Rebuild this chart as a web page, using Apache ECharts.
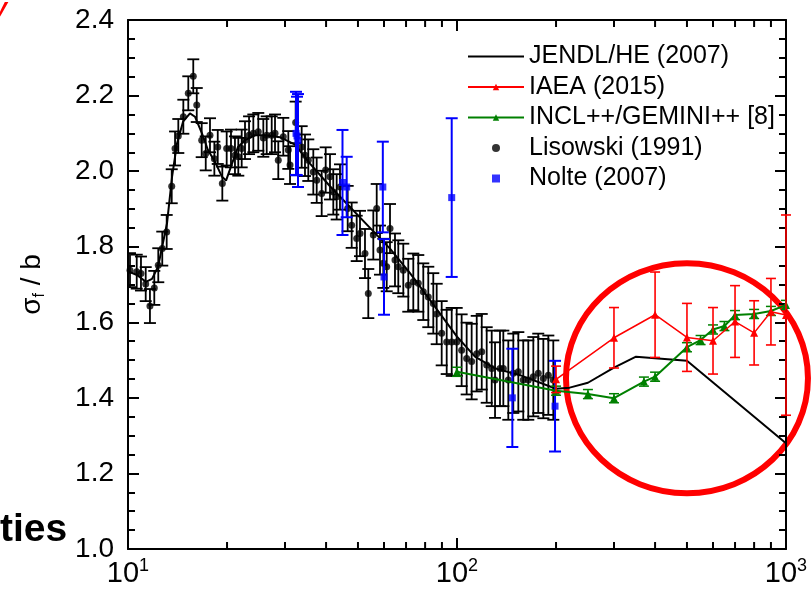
<!DOCTYPE html>
<html>
<head>
<meta charset="utf-8">
<script src="https://cdn.jsdelivr.net/npm/echarts@6/dist/echarts.min.js"></script>
<style>
  html, body { margin: 0; padding: 0; background: #fff; }
  #chart { width: 811px; height: 590px; }
</style>
</head>
<body>
<div id="chart"></div>
<script>
const FONT = "'Liberation Sans', Arial, Helvetica, sans-serif";

// JENDL/HE (2007) evaluation, neutron energy (MeV) vs fission cross section (b)
const jendlE = [10.0, 10.65, 11.34, 11.83, 12.34, 13.14, 13.61, 14.09, 14.70, 15.43, 15.98, 16.78,
  17.50, 18.38, 19.31, 19.86, 20.71, 21.60, 22.68, 24.32, 26.09, 28.97, 32.18, 35.74, 41.11,
  47.28, 54.40, 62.57, 71.97, 82.78, 91.94, 100.0, 113.4, 130.5, 155.4, 200, 220, 250, 300,
  350, 400, 500, 1000];
const jendlV = [1.735, 1.725, 1.707, 1.715, 1.747, 1.862, 1.985, 2.073, 2.131, 2.153, 2.144, 2.100,
  2.056, 2.025, 1.985, 1.975, 2.020, 2.064, 2.082, 2.095, 2.095, 2.090, 2.070, 2.020, 1.960,
  1.905, 1.850, 1.795, 1.730, 1.659, 1.605, 1.562, 1.509, 1.478, 1.460, 1.424, 1.427, 1.440, 1.480,
  1.509, 1.505, 1.498, 1.280];

// IAEA (2015) evaluation with uncertainties
const iaeaE = [200, 300, 400, 500, 600, 700, 800, 900, 1000];
const iaeaV = [1.449, 1.559, 1.620, 1.560, 1.551, 1.602, 1.572, 1.628, 1.619];
const iaeaErr = [0.035, 0.080, 0.113, 0.090, 0.088, 0.095, 0.085, 0.088, 0.265];

// INCL++/GEMINI++ calculation
const inclE = [100, 200, 250, 300, 370, 400, 500, 550, 600, 650, 700, 800, 900, 1000];
const inclV = [1.469, 1.419, 1.410, 1.399, 1.443, 1.456, 1.534, 1.553, 1.581, 1.590, 1.619, 1.622, 1.630, 1.646];
const inclErr = [0.012, 0.012, 0.012, 0.012, 0.012, 0.012, 0.012, 0.012, 0.012, 0.012, 0.012, 0.012, 0.012, 0.012];

// Lisowski (1991) measurement
const lisE = [10.14, 10.63, 10.95, 11.32, 11.66, 12.02, 12.36, 12.71, 13.11, 13.58, 13.90, 14.22,
  14.73, 15.25, 15.79, 16.18, 16.75, 17.23, 17.75, 18.30, 18.74, 19.35, 19.95, 20.56, 21.14,
  21.64, 22.16, 22.68, 23.33, 24.04, 24.89, 25.78, 26.40, 27.34, 27.98, 28.63, 29.65, 30.71,
  31.08, 32.33, 33.72, 34.51, 35.32, 36.58, 37.46, 38.79, 39.89, 41.11, 42.07, 43.08, 44.09,
  46.53, 47.85, 49.56, 50.72, 52.52, 53.75, 55.67, 57.01, 58.34, 59.70, 61.14, 62.57, 64.79,
  66.31, 68.67, 71.11, 73.65, 76.27, 78.99, 81.80, 84.71, 86.75, 89.84, 93.04, 96.36, 99.79,
  103.3, 107.0, 110.8, 114.8, 118.9, 123.1, 127.5, 130.5, 135.1, 138.3, 143.2, 148.3, 153.6,
  159.0, 164.7, 170.6, 176.6, 183.0, 189.5, 196.2];
const lisV = [1.738, 1.734, 1.729, 1.701, 1.643, 1.691, 1.751, 1.795, 1.839, 1.960, 2.060, 2.093,
  2.144, 2.206, 2.251, 2.175, 2.082, 2.047, 2.095, 2.033, 2.064, 1.967, 2.060, 2.060, 2.042,
  2.038, 2.060, 2.082, 2.095, 2.100, 2.104, 2.088, 2.095, 2.095, 2.100, 2.029, 2.091, 2.056,
  2.016, 2.129, 2.064, 2.042, 2.029, 1.998, 1.976, 1.941, 2.003, 1.985, 1.945, 1.932, 1.958,
  1.901, 1.857, 1.822, 1.835, 1.782, 1.676, 1.831, 1.901, 1.791, 1.756, 1.747, 1.848, 1.765,
  1.747, 1.738, 1.698, 1.707, 1.703, 1.681, 1.667, 1.650, 1.622, 1.571, 1.548, 1.548, 1.548,
  1.526, 1.504, 1.496, 1.517, 1.522, 1.487, 1.478, 1.447, 1.478, 1.478, 1.447, 1.465, 1.469,
  1.447, 1.447, 1.456, 1.465, 1.451, 1.460, 1.447];
const lisErr = [0.045, 0.045, 0.045, 0.045, 0.045, 0.045, 0.045, 0.045, 0.045, 0.045, 0.045, 0.045,
  0.045, 0.045, 0.045, 0.045, 0.045, 0.045, 0.045, 0.045, 0.045, 0.045, 0.045, 0.05, 0.05,
  0.05, 0.05, 0.05, 0.05, 0.05, 0.05, 0.05, 0.05, 0.05, 0.05, 0.05, 0.05, 0.05,
  0.05, 0.055, 0.055, 0.055, 0.055, 0.06, 0.06, 0.06, 0.06, 0.06, 0.06, 0.06, 0.06,
  0.06, 0.06, 0.06, 0.06, 0.065, 0.065, 0.065, 0.065, 0.065, 0.065, 0.065, 0.065, 0.07,
  0.07, 0.07, 0.07, 0.075, 0.075, 0.075, 0.08, 0.08, 0.08, 0.085, 0.085, 0.09, 0.09,
  0.095, 0.095, 0.1, 0.1, 0.1, 0.1, 0.1, 0.1, 0.1, 0.1, 0.105, 0.105, 0.105,
  0.105, 0.105, 0.105, 0.105, 0.105, 0.105, 0.105];

// Nolte (2007) measurement
const nolE = [32.41, 32.64, 32.87, 44.87, 46.21, 59.5, 60.0, 96.36, 147.3, 198.6];
const nolV = [2.100, 2.093, 2.081, 1.970, 1.958, 1.958, 1.720, 1.930, 1.400, 1.378];
const nolErr = [0.110, 0.104, 0.123, 0.139, 0.080, 0.120, 0.100, 0.210, 0.130, 0.120];

// Axis ranges and tick values
const X_MIN = 10, X_MAX = 1000;
const Y_MIN = 1.0, Y_MAX = 2.4, Y_STEP = 0.2;
const xMinorTicks = [20, 30, 40, 50, 60, 70, 80, 90, 200, 300, 400, 500, 600, 700, 800, 900];

const chart = echarts.init(document.getElementById('chart'));

function zip(xs, ys) { return xs.map((x, i) => [x, ys[i]]); }
function zip3(xs, ys, es) { return xs.map((x, i) => [x, ys[i], es[i]]); }

// vertical error bars with end caps, positioned through the axes
function errorBars(name, xs, ys, es, color, width, cap, z, clip) {
  return {
    type: 'custom', name: name, z: z, silent: true, clip: clip,
    data: zip3(xs, ys, es),
    encode: { x: 0, y: 1 },
    renderItem: function (params, api) {
      const x = api.value(0), y = api.value(1), e = api.value(2);
      const top = api.coord([x, y + e]);
      const bot = api.coord([x, y - e]);
      return {
        type: 'group',
        children: [
          { type: 'line', shape: { x1: top[0], y1: top[1], x2: bot[0], y2: bot[1] }, style: { stroke: color, lineWidth: width } },
          { type: 'line', shape: { x1: top[0] - cap, y1: top[1], x2: top[0] + cap, y2: top[1] }, style: { stroke: color, lineWidth: width } },
          { type: 'line', shape: { x1: bot[0] - cap, y1: bot[1], x2: bot[0] + cap, y2: bot[1] }, style: { stroke: color, lineWidth: width } }
        ]
      };
    }
  };
}

function logAxis(position, showLabel) {
  return {
    type: 'log', logBase: 10, min: X_MIN, max: X_MAX, position: position,
    axisLine: { show: true, onZero: false, lineStyle: { color: '#000', width: 2 } },
    axisTick: { show: true, inside: true, length: 11, lineStyle: { color: '#000', width: 2 } },
    splitLine: { show: false },
    axisLabel: {
      show: showLabel, margin: 8, color: '#000', fontFamily: FONT,
      formatter: function (v) { return '{b|10}{s|' + Math.round(Math.log10(v)) + '}'; },
      rich: {
        b: { fontSize: 29, fontFamily: FONT, color: '#000', lineHeight: 34 },
        s: { fontSize: 18, fontFamily: FONT, color: '#000', verticalAlign: 'top', lineHeight: 18 }
      }
    }
  };
}

function valueAxis(position, showLabel) {
  return {
    type: 'value', min: Y_MIN, max: Y_MAX, interval: Y_STEP, position: position,
    axisLine: { show: true, onZero: false, lineStyle: { color: '#000', width: 2 } },
    axisTick: { show: true, inside: true, length: 11, lineStyle: { color: '#000', width: 2 } },
    minorTick: { show: true, splitNumber: 4, length: 7, lineStyle: { color: '#000', width: 2 } },
    splitLine: { show: false },
    axisLabel: {
      show: showLabel, margin: 14, color: '#000', fontFamily: FONT, fontSize: 28,
      formatter: function (v) { return v.toFixed(1); }
    }
  };
}

const yLeft = valueAxis('left', true);
yLeft.name = '{a|σ}{s|f}{a| / b}';
yLeft.nameLocation = 'middle';
yLeft.nameRotate = 90;
yLeft.nameGap = 80;
yLeft.nameTextStyle = {
  color: '#000', fontFamily: FONT,
  rich: {
    a: { fontSize: 28, fontFamily: FONT, color: '#000', lineHeight: 32 },
    s: { fontSize: 16, fontFamily: FONT, color: '#000', verticalAlign: 'bottom', lineHeight: 16 }
  }
};

chart.setOption({
  animation: false,
  backgroundColor: '#fff',
  grid: { left: 128, right: 25, top: 20, bottom: 41 },
  xAxis: [logAxis('bottom', true), logAxis('top', false)],
  yAxis: [yLeft, valueAxis('right', false)],
  legend: {
    orient: 'vertical', left: 462, top: 38, padding: 5,
    itemWidth: 56, itemHeight: 8, itemGap: 3.5,
    selectedMode: false,
    textStyle: { fontFamily: FONT, fontSize: 25, color: '#000', lineHeight: 27 },
    data: [
      { name: 'JENDL/HE (2007)', itemStyle: { opacity: 0 } },
      { name: 'IAEA (2015)' },
      { name: 'INCL++/GEMINI++ [8]' },
      { name: 'Lisowski (1991)' },
      { name: 'Nolte (2007)', icon: 'path://M0,0h10v10h-10z' }
    ]
  },
  series: [
    errorBars('Lisowski err', lisE, lisV, lisErr, '#000', 1.8, 6, 2, true),
    {
      type: 'line', name: 'JENDL/HE (2007)', data: zip(jendlE, jendlV), z: 3,
      symbol: 'none', lineStyle: { color: '#000', width: 2 }, itemStyle: { color: '#000' }
    },
    {
      type: 'scatter', name: 'Lisowski (1991)', data: zip(lisE, lisV), z: 4,
      symbol: 'circle', symbolSize: 7, itemStyle: { color: '#000' }
    },
    errorBars('Nolte err', nolE, nolV, nolErr, '#0000ff', 2, 6, 5, true),
    {
      type: 'scatter', name: 'Nolte (2007)', data: zip(nolE, nolV), z: 6,
      symbol: 'rect', symbolSize: 7, itemStyle: { color: '#0000ff' }
    },
    errorBars('INCL err', inclE, inclV, inclErr, '#008000', 1.5, 5, 7, true),
    {
      type: 'line', name: 'INCL++/GEMINI++ [8]', data: zip(inclE, inclV), z: 8,
      symbol: 'triangle', symbolSize: 8, lineStyle: { color: '#008000', width: 2 }, itemStyle: { color: '#008000' }
    },
    errorBars('IAEA err', iaeaE, iaeaV, iaeaErr, '#ff0000', 1.6, 5, 9, false),
    {
      type: 'line', name: 'IAEA (2015)', data: zip(iaeaE, iaeaV), z: 10,
      symbol: 'triangle', symbolSize: 8, lineStyle: { color: '#ff0000', width: 1.5 }, itemStyle: { color: '#ff0000' }
    }
  ]
});

// minor ticks of the logarithmic energy axis (2..9 per decade), bottom and top edges
const extras = [];
xMinorTicks.forEach(function (v) {
  const b = chart.convertToPixel({ xAxisIndex: 0, yAxisIndex: 0 }, [v, Y_MIN]);
  const t = chart.convertToPixel({ xAxisIndex: 0, yAxisIndex: 0 }, [v, Y_MAX]);
  extras.push({ type: 'line', shape: { x1: b[0], y1: b[1], x2: b[0], y2: b[1] - 7 }, style: { stroke: '#000', lineWidth: 2 } });
  extras.push({ type: 'line', shape: { x1: t[0], y1: t[1], x2: t[0], y2: t[1] + 7 }, style: { stroke: '#000', lineWidth: 2 } });
});

// highlight ring around the high-energy region, anchored at (500 MeV, 1.452 b)
const ringCenter = chart.convertToPixel({ xAxisIndex: 0, yAxisIndex: 0 }, [500, 1.452]);
extras.push({
  type: 'ellipse',
  shape: { cx: ringCenter[0], cy: ringCenter[1], rx: 121, ry: 115 },
  style: { fill: null, stroke: '#ff0000', lineWidth: 6 }
});
extras.push({
  type: 'text', left: 0, top: 511,
  style: { text: 'ties', fill: '#000', font: "bold 39px 'Liberation Sans', Arial, sans-serif" }
});
extras.push({
  type: 'text', left: -6, top: -4,
  style: { text: 'y', fill: '#ff0000', font: "bold italic 24px 'Liberation Sans', Arial, sans-serif" }
});
chart.setOption({ graphic: extras });
</script>
</body>
</html>
